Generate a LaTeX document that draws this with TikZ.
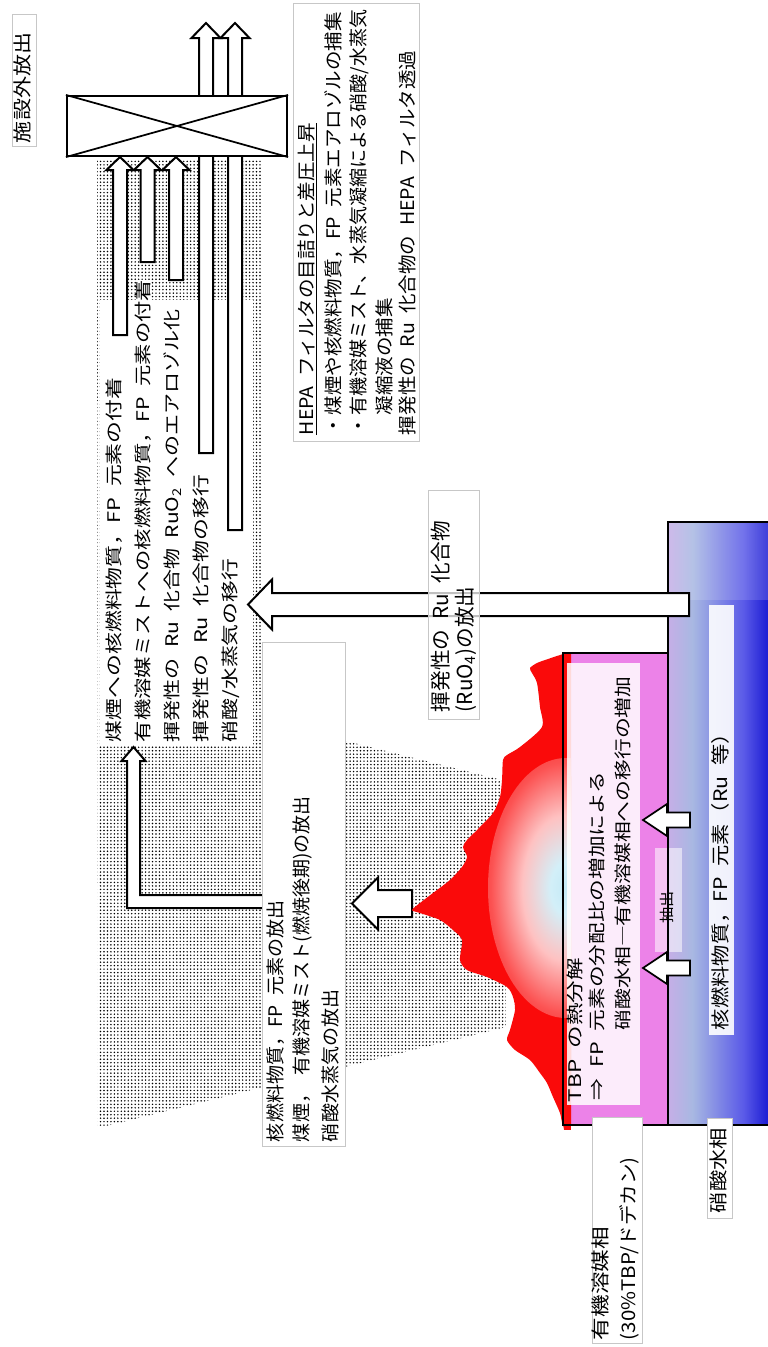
\documentclass[tikz,border=0pt]{standalone}
\usepackage{fontspec}
\setmainfont{Noto Sans CJK JP}[WordSpace=2.2]
\usetikzlibrary{patterns.meta}

% phase and flame colours
\definecolor{orgA}{RGB}{245,20,30}
\definecolor{orgB}{RGB}{240,70,130}
\definecolor{orgC}{RGB}{236,130,232}
\definecolor{orgD}{RGB}{244,176,244}
\definecolor{aqA}{RGB}{224,160,236}
\definecolor{aqB}{RGB}{205,172,232}
\definecolor{aqC}{RGB}{168,184,226}
\definecolor{aqD}{RGB}{90,90,232}
\definecolor{aqE}{RGB}{24,24,210}
\definecolor{glowc}{RGB}{196,234,246}
\definecolor{flamered}{RGB}{250,10,10}

\pgfdeclarehorizontalshading{orgshade}{100bp}{color(0bp)=(orgA); color(5bp)=(orgB); color(30bp)=(orgC); color(75bp)=(orgC); color(100bp)=(orgD)}
\pgfdeclarehorizontalshading{aqshade}{100bp}{color(0bp)=(aqA); color(22bp)=(aqB); color(37bp)=(aqC); color(62bp)=(aqD); color(75bp)=(aqE); color(100bp)=(aqE)}
\pgfdeclareradialshading{glowshade}{\pgfpoint{0bp}{0bp}}{color(0bp)=(glowc); color(5bp)=(glowc!75!white); color(14bp)=(flamered!25!white); color(24bp)=(flamered!70!white); color(35bp)=(flamered); color(50bp)=(flamered)}

\newcommand\jfs[1]{\fontsize{#1}{#1}\selectfont}
\newcommand\sx[2]{\scalebox{#1}[1]{#2}}
% block arrow pointing up: x centre, y tail, y tip, shaft half width, head half width, head length
\newcommand\ArrUp[6]{\draw[barrow] (#1-#4,#2) -- (#1-#4,#3+#6) -- (#1-#5,#3+#6) -- (#1,#3) -- (#1+#5,#3+#6) -- (#1+#4,#3+#6) -- (#1+#4,#2) -- cycle;}
% block arrow pointing left: y centre, x tail, x tip, shaft half width, head half width, head length
\newcommand\ArrLeft[6]{\draw[barrow] (#2,#1-#4) -- (#3+#6,#1-#4) -- (#3+#6,#1-#5) -- (#3,#1) -- (#3+#6,#1+#5) -- (#3+#6,#1+#4) -- (#2,#1+#4) -- cycle;}

\begin{document}
\begin{tikzpicture}[x=0.75pt, y=-0.75pt,
  barrow/.style={draw=black, fill=white, line width=1.5pt},
  lblbox/.style={draw=black!22, line width=0.6pt, fill=white},
  jt/.style={rotate=90, anchor=west, inner sep=0pt, outer sep=0pt, text height=.88em, text depth=.12em},
  vessel/.style={line width=1.6pt, line cap=rect}]
\useasboundingbox (0,0) rectangle (768,1347);

% aerosol cloud
\fill[pattern={Dots[distance=2.6pt,radius=.62pt]}, pattern color=black]
  (97,160) -- (262,160) -- (262,720) -- (506,781) -- (506,1027) -- (98,1128) -- cycle;
\fill[white] (100,300) rectangle (253,745);

% transport arrows towards the filter
\ArrUp{120}{335}{157}{7}{13.5}{13}
\ArrUp{147.5}{262}{157}{7}{13.5}{13}
\ArrUp{176}{280}{157}{7}{13.5}{13}
\ArrUp{206}{453}{23}{7}{14.5}{15}
\ArrUp{235}{530}{23}{7}{14.5}{15}

% HEPA filter
\node[draw, line width=1.6pt, fill=white, minimum width=165pt, minimum height=45pt, inner sep=0pt] (filter) at (177,126) {};
\draw[line width=1.3pt] (filter.north west) -- (filter.south east) (filter.south west) -- (filter.north east);

% release from the fire into the cell
\draw[barrow] (263,895) -- (140,895) -- (140,761) -- (145.5,761) -- (133.5,747) -- (121.5,761) -- (127,761) -- (127,908) -- (263,908) -- cycle;
\ArrLeft{903.5}{412}{352}{13.5}{26}{26}

% vessel: aqueous and organic phases
\shade[shading=aqshade] (668,522) rectangle (770,1125);
\fill[white, opacity=0.15] (668,522) rectangle (770,600);
\shade[shading=orgshade] (563,653) rectangle (668,1125);

% flame
\begin{scope}
\clip plot[smooth, tension=0.45] coordinates {(563,654) (548,659) (537,663) (530,668) (532,673) (537,683) (540,707) (542,727) (520,747) (507,755) (503,760) (502,780) (500,797) (493,813) (477,830) (467,840) (463,847) (467,857) (462,867) (450,880) (433,893) (420,903) (412,910) (420,913) (440,920) (453,930) (462,940) (460,960) (467,970) (487,977) (507,987) (513,997) (515,1010) (510,1030) (507,1040) (515,1050) (530,1060) (540,1073) (547,1083) (553,1097) (560,1113) (563,1125) (571,1125) (571,654)} -- cycle;
\fill[flamered] (400,640) rectangle (580,1130);
\shade[shading=glowshade] (566,888) ellipse [x radius=78, y radius=130];
\end{scope}

% text panels inside the phases
\fill[white, opacity=0.85] (567,663) rectangle (640,1105);
\fill[white, opacity=0.9] (709,605) rectangle (734,1035);
\fill[white, opacity=0.55] (655,848) rectangle (682,952);

% vessel outline and interface
\draw[vessel] (563,1125) -- (563,653) -- (668,653);
\draw[vessel] (668,1125) -- (668,522) -- (770,522);
\draw[vessel] (563,1125) -- (770,1125);

% extraction arrows
\begin{scope}[barrow/.append style={line width=1.3pt}]
\ArrLeft{820}{690}{643}{7.5}{16}{24}
\ArrLeft{968}{690}{643}{7.5}{16}{24}
\end{scope}

% volatile Ru release
\ArrLeft{604.5}{689}{248}{11.5}{25}{24}

% label boxes
\draw[lblbox] (12,14) rectangle (36,146);
\draw[lblbox] (293,3) rectangle (419,441);
\draw[lblbox, fill opacity=0.75] (428,490) rectangle (479,719);
\draw[lblbox] (262,642) rectangle (345,1146);
\draw[lblbox] (592,1117) rectangle (642,1343);
\draw[lblbox] (707,1118) rectangle (732,1218);

% texts
\node[jt, font=\jfs{14}] (outside) at (24,143) {\sx{1.18}{施設外放出}};

\begin{scope}[every node/.append style={font=\jfs{14}}]
\node[jt] (hepa1) at (308,435) {\sx{1.045}{\underline{HEPA フィルタの目詰りと差圧上昇}}};
\node[jt] (hepa2) at (335,435) {\sx{1.045}{・煤煙や核燃料物質，FP 元素エアロゾルの捕集}};
\node[jt] (hepa3) at (360,435) {\sx{1.02}{・有機溶媒ミスト、水蒸気凝縮による硝酸/水蒸気}};
\node[jt] (hepa4) at (386,435) {\sx{1.045}{　凝縮液の捕集}};
\node[jt] (hepa5) at (409,435) {\sx{1.045}{揮発性の Ru 化合物の HEPA フィルタ透過}};
\end{scope}

\begin{scope}[every node/.append style={font=\jfs{13}, fill=white, inner xsep=1pt}]
\node[jt] (m1) at (115,742) {\sx{1.26}{煤煙への核燃料物質，FP 元素の付着}};
\node[jt] (m2) at (144,742) {\sx{1.23}{有機溶媒ミストへの核燃料物質，FP 元素の付着}};
\node[jt] (m3) at (173,742) {\sx{1.21}{揮発性の Ru 化合物 RuO\textsubscript{2} へのエアロゾル化}};
\node[jt] (m4) at (202,742) {\sx{1.26}{揮発性の Ru 化合物の移行}};
\node[jt] (m5) at (231,742) {\sx{1.26}{硝酸/水蒸気の移行}};
\end{scope}

\begin{scope}[every node/.append style={font=\jfs{15.5}}]
\node[jt] (ru1) at (443,712) {\sx{1.0}{揮発性の Ru 化合物}};
\node[jt] (ru2) at (467,712) {\sx{1.0}{(RuO\textsubscript{4})の放出}};
\end{scope}

\begin{scope}[every node/.append style={font=\jfs{14}}]
\node[jt] (rel1) at (277,1142) {\sx{1.02}{核燃料物質，FP 元素の放出}};
\node[jt] (rel2) at (303,1142) {\sx{1.02}{煤煙， 有機溶媒ミスト(燃焼後期)の放出}};
\node[jt] (rel3) at (332,1142) {\sx{1.02}{硝酸水蒸気の放出}};
\end{scope}

\begin{scope}[every node/.append style={font=\jfs{13}}]
\node[jt] (tbp1) at (576,1102) {\sx{1.3}{TBP の熱分解}};
\node[jt] (tbp2) at (598,1100) {\sx{1.25}{⇒ FP 元素の分配比の増加による}};
\node[jt] (tbp3) at (624,1030) {\sx{1.2}{硝酸水相―有機溶媒相への移行の増加}};
\end{scope}

\node[jt, font=\jfs{14}] (aqtxt) at (722,1030) {\sx{1.14}{核燃料物質，FP 元素（Ru 等）}};
\node[rotate=90, font=\jfs{11}, inner sep=0pt] (extract) at (667,907) {\sx{1.1}{抽出}};

\begin{scope}[every node/.append style={font=\jfs{14}}]
\node[jt] (orgph1) at (602,1340) {\sx{1.21}{有機溶媒相}};
\node[jt] (orgph2) at (630,1340) {\sx{1.1}{(30\%TBP/ドデカン)}};
\node[jt] (aqph) at (720,1213) {\sx{1.14}{硝酸水相}};
\end{scope}
\end{tikzpicture}
\end{document}
